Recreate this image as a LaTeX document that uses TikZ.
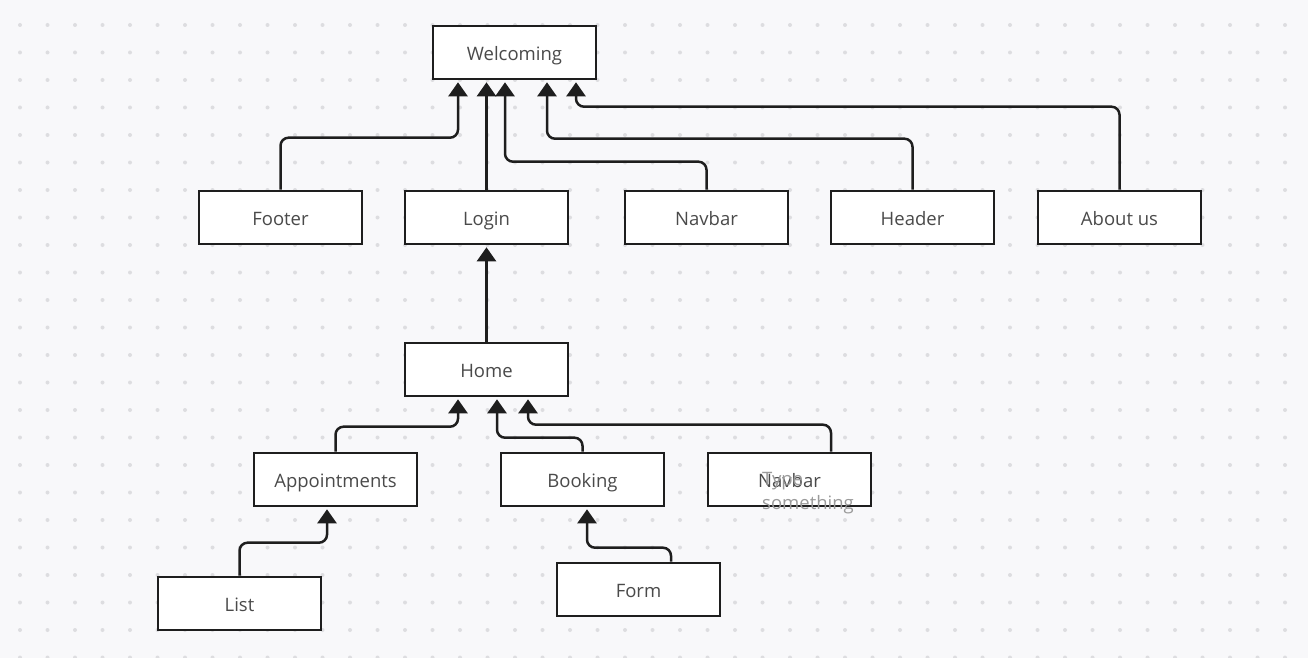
\documentclass[tikz,border=0pt]{standalone}
\usepackage{fontspec}
\setmainfont{Open Sans}
\usetikzlibrary{arrows.meta}
\definecolor{bgc}{HTML}{F8F8FA}
\definecolor{dotc}{HTML}{DDDDE0}
\definecolor{linec}{HTML}{1E1E1E}
\definecolor{txtc}{HTML}{4A4A4A}
\definecolor{hintc}{HTML}{9A9A9A}
\tikzset{
  box/.style={draw=linec, fill=white, line width=2.6pt, minimum width=163pt, minimum height=53pt, inner sep=0pt,
    text=txtc, font=\fontsize{18.5}{22}\selectfont, text height=20pt, text depth=4pt},
  conn/.style={draw=linec, line width=2.5pt, rounded corners=8pt,
    -{Triangle[width=19pt,length=14pt]}, shorten >=2pt},
}
\begin{document}
\begin{tikzpicture}[x=1pt,y=-1pt]
\useasboundingbox (0,0) rectangle (1308,658);
\fill[bgc] (0,0) rectangle (1308,658);
\foreach \i in {0,...,46} \foreach \j in {0,...,23} \fill[dotc] (20+27.5*\i,25+27.5*\j) circle (2pt);

\node[box] (welcoming) at (514.5,52.5) {Welcoming};
\node[box] (footer) at (280.5,217.5) {Footer};
\node[box] (login) at (486.5,217.5) {Login};
\node[box] (navbar) at (706.5,217.5) {Navbar};
\node[box] (header) at (912.5,217.5) {Header};
\node[box] (about) at (1119.5,217.5) {About us};
\node[box] (home) at (486.5,369.5) {Home};
\node[box] (appoint) at (335.5,479.5) {Appointments};
\node[box] (booking) at (582.5,479.5) {Booking};
\node[box] (navbartwo) at (789.5,479.5) {Navbar};
\node[box] (list) at (239.5,603.5) {List};
\node[box] (form) at (638.5,589.5) {Form};
\node[anchor=north west, inner sep=0pt, align=left, text=hintc, font=\fontsize{18.5}{24}\selectfont] (hint) at (762,472) {Type\\something};

\draw[conn] (footer.north) -- ++(0,-52) -| ([xshift=-56.5pt]welcoming.south);
\draw[conn] (login.north) -- (welcoming.south -| login.north);
\draw[conn] (navbar.north) -- ++(0,-28) -| ([xshift=-9.5pt]welcoming.south);
\draw[conn] (header.north) -- ++(0,-51) -| ([xshift=32.5pt]welcoming.south);
\draw[conn] (about.north) -- ++(0,-83) -| ([xshift=61.5pt]welcoming.south);
\draw[conn] (home.north) -- (login.south);
\draw[conn] (appoint.north) -- ++(0,-25) -| ([xshift=-28.5pt]home.south);
\draw[conn] (booking.north) -- ++(0,-14) -| ([xshift=10.5pt]home.south);
\draw[conn] ([xshift=41.5pt]navbartwo.north) -- ++(0,-27) -| ([xshift=41.5pt]home.south);
\draw[conn] (list.north) -- ++(0,-33) -| ([xshift=-8.5pt]appoint.south);
\draw[conn] ([xshift=32.5pt]form.north) -- ++(0,-14) -| ([xshift=4.5pt]booking.south);
\end{tikzpicture}
\end{document}
